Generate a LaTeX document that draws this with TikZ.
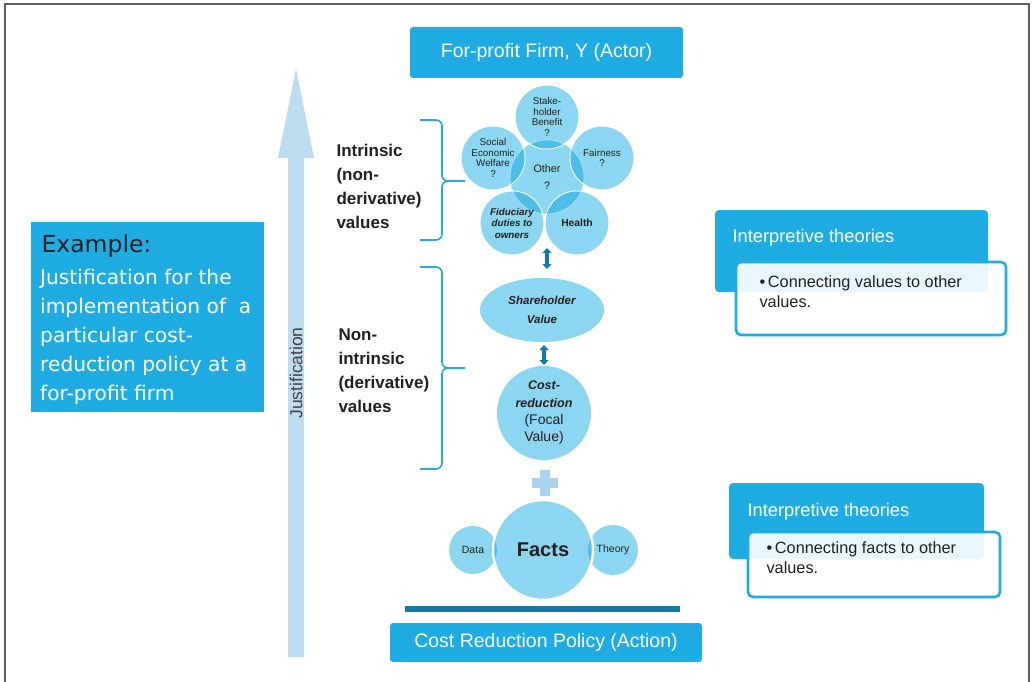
\documentclass[tikz,border=0pt]{standalone}
\usepackage{fontspec}
\setmainfont{Liberation Sans}
\newfontfamily\exfont{DejaVu Sans}
\usetikzlibrary{arrows.meta,shapes.geometric}

\definecolor{boxblue}{RGB}{31,172,226}
\definecolor{bublight}{RGB}{141,214,241}
\definecolor{bubdark}{RGB}{78,190,233}
\definecolor{arrowlight}{RGB}{189,220,240}
\definecolor{pluscol}{RGB}{170,212,238}
\definecolor{tealdark}{RGB}{22,122,168}
\definecolor{bracecol}{RGB}{41,166,222}
\definecolor{framegray}{RGB}{95,95,95}
\definecolor{inkdark}{RGB}{35,31,32}

\begin{document}
\begin{tikzpicture}[x=1pt,y=-1pt]
  \tikzset{
    bluebox/.style={fill=boxblue,text=white,rounded corners=3pt,inner sep=0pt,
      font=\fontsize{19.5}{23}\selectfont},
    bubble/.style={circle,fill=bublight,draw=white,line width=1pt,inner sep=0pt},
    btxt/.style={align=center,text=inkdark,font=\fontsize{9.8}{10.6}\selectfont},
    lvltxt/.style={anchor=west,align=left,text=inkdark,
      font=\fontsize{17}{24}\selectfont\bfseries},
    brace/.style={draw=bracecol,line width=1.6pt,rounded corners=6pt},
    dbl/.style={draw=tealdark,line width=3.6pt,
      {Triangle[length=5pt,width=9pt]}-{Triangle[length=5pt,width=9pt]}},
    theorybox/.style={fill=boxblue,rounded corners=4pt,inner sep=0pt},
    notebox/.style={fill=white,fill opacity=0.9,draw=boxblue,line width=2.6pt,
      rounded corners=5pt,inner sep=0pt},
    notetxt/.style={anchor=north west,align=left,text=inkdark,
      font=\fontsize{16.3}{20.5}\selectfont},
    thtxt/.style={anchor=west,text=white,font=\fontsize{18.3}{20}\selectfont}
  }
  \useasboundingbox (0,0) rectangle (1033,682);
  \draw[framegray,line width=1.5pt] (5,4) rectangle (1029,700);

  % actor and action
  \node[bluebox,minimum width=273pt,minimum height=51pt] (actor) at (546.5,52.5)
    {For-profit Firm, Y (Actor)};
  \node[bluebox,minimum width=312pt,minimum height=39pt] (action) at (546,642.5)
    {Cost Reduction Policy (Action)};
  \fill[tealdark] (405,606) rectangle (680,612);

  % justification arrow
  \fill[arrowlight] (288,657) -- (288,158) -- (278,158) -- (296,69)
    -- (314,158) -- (304,158) -- (304,657) -- cycle;
  \node[rotate=90,text=inkdark!85,font=\fontsize{17.5}{19}\selectfont]
    (just) at (296,373) {Justification};

  % example
  \node[fill=boxblue,minimum width=233pt,minimum height=190pt,inner sep=0pt]
    (ex) at (147.5,317) {};
  \node[anchor=west,text=inkdark,font=\exfont\fontsize{23.5}{26}\selectfont]
    (extitle) at (38,246) {Example:};
  \node[anchor=north west,align=left,text=white,inner sep=0pt,
    font=\exfont\fontsize{20.2}{29}\selectfont] (exbody) at (40,269)
    {Justification for the\\implementation of\ \ a\\particular cost-\\
     reduction policy at a\\for-profit firm};

  % levels
  \node[lvltxt] (intr) at (333,186) {Intrinsic\\(non-\\derivative)\\values};
  \node[lvltxt] (nonintr) at (335,371) {Non-\\intrinsic\\(derivative)\\values};
  \draw[brace] (420,120) -- (442,120) -- (442,181) -- (465,181);
  \draw[brace] (465,181) -- (442,181) -- (442,240) -- (420,240);
  \draw[brace] (420,267) -- (442,267) -- (442,368) -- (465,368);
  \draw[brace] (465,368) -- (442,368) -- (442,469) -- (420,469);

  % intrinsic values
  \node[bubble,minimum size=76pt] (other) at (547,177) {};
  \node[bubble,minimum size=64pt] (stake) at (547,117) {};
  \node[bubble,minimum size=64pt] (social) at (493,158) {};
  \node[bubble,minimum size=64pt] (fair) at (602,158) {};
  \node[bubble,minimum size=64pt] (fid) at (512,223) {};
  \node[bubble,minimum size=64pt] (health) at (577,223) {};
  \begin{scope}
    \clip (other.center) circle[radius=37pt];
    \foreach \p in {stake,social,fair,fid,health}
      \fill[bubdark] (\p.center) circle[radius=31.5pt];
  \end{scope}
  \draw[white,opacity=0.5,line width=0.6pt] (other.center) circle[radius=37pt];
  \node[btxt] at (stake) {Stake-\\holder\\Benefit\\?};
  \node[btxt] at (social) {Social\\Economic\\Welfare\\?};
  \node[btxt] at (fair) {Fairness\\?};
  \node[btxt,font=\fontsize{9.8}{11.5}\selectfont\bfseries\itshape] at (fid)
    {Fiduciary\\duties to\\owners};
  \node[btxt,font=\fontsize{10.3}{12}\selectfont\bfseries] at (health) {Health};
  \node[btxt,font=\fontsize{10.8}{12}\selectfont] at (other) {Other\\[5pt]?};

  % derivative values
  \node[ellipse,fill=bublight,minimum width=124pt,minimum height=64pt,
    inner sep=0pt,align=center,text=inkdark,
    font=\fontsize{11.5}{14}\selectfont\bfseries\itshape] (share) at (542,310)
    {Shareholder\\[5pt]Value};
  \node[circle,fill=bublight,minimum size=94pt,inner sep=0pt,align=center,
    text=inkdark,font=\fontsize{14}{17.3}\selectfont] (cost) at (544,413)
    {{\fontsize{12.5}{17.3}\selectfont\bfseries\itshape Cost-}\\
     {\fontsize{12.5}{17.3}\selectfont\bfseries\itshape reduction}\\
     (Focal\\Value)};
  \coordinate (a1t) at (547,248);
  \coordinate (a1b) at (547,269);
  \coordinate (a2t) at (544,345);
  \coordinate (a2b) at (544,365);
  \draw[dbl] (a1t) -- (a1b);
  \draw[dbl] (a2t) -- (a2b);

  % plus
  \fill[pluscol] (540,470) rectangle (550,496);
  \fill[pluscol] (532,478) rectangle (558,488);

  % facts
  \node[circle,fill=bublight,minimum size=100pt,inner sep=0pt] (facts) at (543,550) {};
  \node[bubble,draw=none,minimum size=48pt] (data) at (473,550) {};
  \node[bubble,draw=none,minimum size=50pt] (theory) at (613,550) {};
  \begin{scope}
    \clip (data.center) circle[radius=24pt];
    \fill[bubdark] (facts.center) circle[radius=50pt];
  \end{scope}
  \begin{scope}
    \clip (theory.center) circle[radius=25pt];
    \fill[bubdark] (facts.center) circle[radius=50pt];
  \end{scope}
  \draw[white,line width=2.5pt] (facts.center) circle[radius=50pt];
  \node[text=inkdark,font=\fontsize{20}{22}\selectfont\bfseries] at (facts) {Facts};
  \node[btxt,font=\fontsize{10.5}{12}\selectfont] at (data) {Data};
  \node[btxt,font=\fontsize{10.5}{12}\selectfont] at (theory) {Theory};

  % interpretive theories
  \node[theorybox,minimum width=273pt,minimum height=82pt] (th1) at (851.5,251) {};
  \node[thtxt] at (729,238) {Interpretive theories};
  \node[notebox,minimum width=270pt,minimum height=73pt] (nb1) at (871,298.5) {};
  \node[notetxt] at (756,272) {\textbullet\,Connecting values to other\\values.};

  \node[theorybox,minimum width=255pt,minimum height=76pt] (th2) at (856.5,521) {};
  \node[thtxt] at (744,512) {Interpretive theories};
  \node[notebox,minimum width=252pt,minimum height=65pt] (nb2) at (874,564.5) {};
  \node[notetxt] at (763,538) {\textbullet\,Connecting facts to other\\values.};
\end{tikzpicture}
\end{document}
